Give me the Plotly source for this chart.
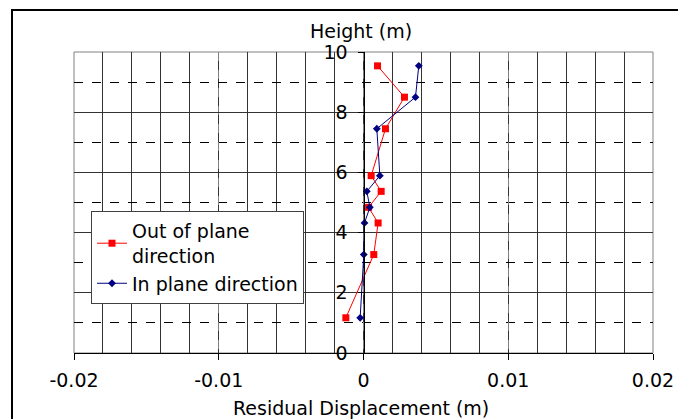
import plotly.graph_objects as go

heights = [1.17, 3.27, 4.32, 4.84, 5.37, 5.89, 7.45, 8.50, 9.54]
out_of_plane = [-0.00122, 0.00071, 0.00101, 0.00035, 0.00122, 0.00053, 0.00152, 0.00283, 0.00097]
in_plane = [-0.00023, 0.00002, 0.00007, 0.00044, 0.00023, 0.00113, 0.00092, 0.00359, 0.00382]

x_tick_vals = [-0.02, -0.01, 0, 0.01, 0.02]
x_tick_text = ["-0.02", "-0.01", "0", "0.01", "0.02"]
y_tick_vals = [0, 2, 4, 6, 8, 10]

FONT = "DejaVu Sans"
FS = 19

fig = go.Figure()
fig.add_trace(go.Scatter(
    x=out_of_plane, y=heights, mode="lines+markers",
    name="Out of plane<br>direction",
    line=dict(color="#FF0000", width=1),
    marker=dict(symbol="square", size=7, color="#FF0000"),
))
fig.add_trace(go.Scatter(
    x=in_plane, y=heights, mode="lines+markers",
    name="In plane direction",
    line=dict(color="#000080", width=1),
    marker=dict(symbol="diamond", size=6, color="#000080"),
))

W, H = 678, 419
L, R, T, B = 74, 25, 52, 66
pw, ph = W - L - R, H - T - B

def px_x(p):
    return (p - L) / pw

def px_y(p):
    return 1 - (p - T) / ph

fig.update_layout(
    width=W, height=H,
    margin=dict(l=L, r=R, t=T, b=B, autoexpand=False),
    paper_bgcolor="white", plot_bgcolor="white",
    font=dict(family=FONT, size=FS, color="black"),
    showlegend=True,
    legend=dict(
        x=px_x(91), y=px_y(211), xanchor="left", yanchor="top",
        bgcolor="white", bordercolor="#404040", borderwidth=1,
        font=dict(family=FONT, size=FS, color="black"),
        tracegroupgap=0, itemwidth=30,
    ),
    xaxis=dict(
        range=[-0.02, 0.02], tickmode="array", tickvals=x_tick_vals, ticktext=x_tick_text,
        automargin=False,
        showgrid=True, gridcolor="#808080", griddash="dash", gridwidth=1,
        ticks="outside", ticklen=6, tickcolor="black", ticklabelstandoff=4,
        showline=True, linecolor="black", linewidth=1,
        zeroline=False,
        minor=dict(tickmode="linear", dtick=0.002, tick0=0, showgrid=True, gridcolor="#333333",
                   griddash="solid", gridwidth=1, ticks=""),
        tickfont=dict(size=FS),
    ),
    yaxis=dict(
        range=[0, 10], tickmode="array", tickvals=y_tick_vals,
        anchor="free", position=0.5, automargin=False,
        showgrid=True, gridcolor="#333333", gridwidth=1, griddash="solid",
        ticks="outside", ticklen=6, tickcolor="black", ticklabelstandoff=6,
        showline=True, linecolor="black", linewidth=1,
        zeroline=False,
        minor=dict(tickmode="linear", dtick=1, tick0=1, showgrid=True, gridcolor="black",
                   griddash="dash", gridwidth=1, ticks=""),
        tickfont=dict(size=FS),
    ),
    shapes=[
        dict(type="rect", xref="paper", yref="paper", x0=0, x1=1, y0=0, y1=1,
             line=dict(color="#808080", width=1), layer="below"),
        dict(type="rect", xref="paper", yref="paper", x0=px_x(12), x1=px_x(700), y0=px_y(440), y1=px_y(10),
             line=dict(color="black", width=2), layer="above"),
    ],
    annotations=[
        dict(text="Height (m)", xref="paper", yref="paper", x=px_x(361), y=px_y(31),
             showarrow=False, xanchor="center", yanchor="middle", font=dict(size=FS)),
        dict(text="Residual Displacement (m)", xref="paper", yref="paper", x=px_x(361), y=px_y(408),
             showarrow=False, xanchor="center", yanchor="middle", font=dict(size=FS)),
    ],
)

fig.write_html(
    "out.html",
    config={"displayModeBar": False},
    post_script="document.body.style.margin='0';document.body.style.padding='0';document.body.style.overflow='hidden';",
)
